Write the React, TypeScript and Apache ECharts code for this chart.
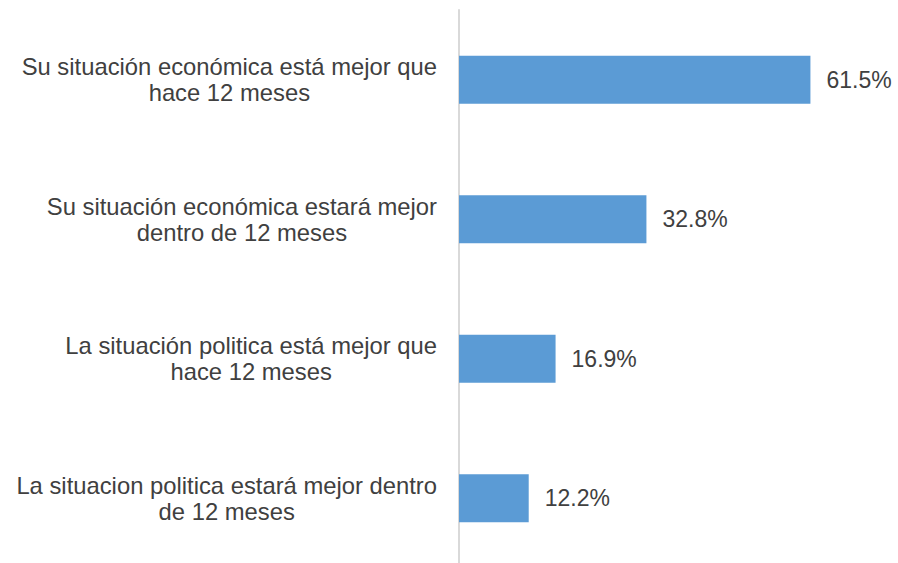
import React, { useEffect, useRef } from "react";
import * as echarts from "echarts";

const categories: string[] = [
  "Su situación económica está mejor que\nhace 12 meses",
  "Su situación económica estará mejor\ndentro de 12 meses",
  "La situación politica está mejor que\nhace 12 meses",
  "La situacion politica estará mejor dentro\nde 12 meses",
];
const values: number[] = [61.5, 32.8, 16.9, 12.2];

const TEXT = "#404040";
const FONT = "'Liberation Sans', Arial, sans-serif";

export default function App() {
  const ref = useRef<HTMLDivElement>(null);
  useEffect(() => {
    if (!ref.current) return;
    const chart = echarts.init(ref.current, undefined, { renderer: "svg" });
    chart.setOption({
      animation: false,
      backgroundColor: "#ffffff",
      textStyle: { fontFamily: FONT },
      grid: { left: 459, top: 10, width: 400, height: 558, containLabel: false },
      xAxis: {
        type: "value",
        min: 0,
        max: 70,
        show: false,
        splitLine: { show: false },
      },
      yAxis: {
        type: "category",
        data: categories,
        inverse: true,
        axisLine: { show: true, lineStyle: { color: "#D9D9D9", width: 2 } },
        axisTick: { show: false },
        splitLine: { show: false },
        axisLabel: {
          margin: 22,
          align: "right",
          formatter: (v: string) =>
            v
              .split("\n")
              .map((l) => `{c|${l}}`)
              .join("\n"),
          rich: {
            c: {
              align: "center",
              fontSize: 23.8,
              lineHeight: 26,
              color: TEXT,
              fontFamily: FONT,
            },
          },
        },
      },
      series: [
        {
          type: "bar",
          data: values,
          barWidth: 48,
          itemStyle: { color: "#5B9BD5" },
          label: {
            show: true,
            position: "right",
            distance: 16,
            formatter: (p: any) => `${p.value.toFixed(1)}%`,
            fontSize: 23,
            color: TEXT,
            fontFamily: FONT,
          },
        },
      ],
    });
    return () => chart.dispose();
  }, []);
  return (
    <div
      style={{
        position: "fixed",
        left: 0,
        top: 0,
        width: 898,
        height: 563,
        overflow: "hidden",
        background: "#fff",
      }}
    >
      <div ref={ref} style={{ width: 898, height: 572 }} />
    </div>
  );
}
